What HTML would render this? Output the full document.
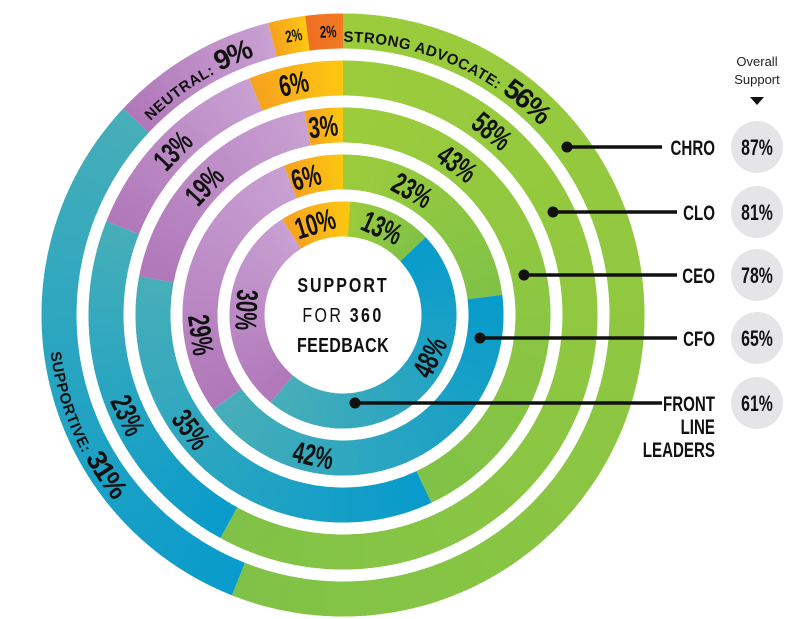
<!DOCTYPE html>
<html><head><meta charset="utf-8"><style>
html,body{margin:0;padding:0;background:#fff;}
svg{display:block;}
.nar{font-family:"Liberation Sans","DejaVu Sans",sans-serif;font-weight:bold;}
.wide{font-family:"Liberation Sans","DejaVu Sans",sans-serif;font-weight:bold;}
</style></head><body>
<svg id="chart" width="800" height="619" viewBox="0 0 800 619" xmlns="http://www.w3.org/2000/svg" xmlns:xlink="http://www.w3.org/1999/xlink">
<g id="rings"></g>
<g id="labels"></g>
<g id="leaders"></g>
<g text-anchor="middle" fill="#111" transform="translate(343,0) scale(0.8,1)">
<text class="wide" x="0" y="292" font-size="20" letter-spacing="2.5">SUPPORT</text>
<text x="0" y="322" font-size="20" letter-spacing="3"><tspan font-family="Liberation Sans, sans-serif">FOR</tspan> <tspan class="wide">360</tspan></text>
<text class="wide" x="0" y="352" font-size="20" letter-spacing="0.5">FEEDBACK</text>
</g>
<g text-anchor="middle" fill="#222">
<text x="757" y="66" font-size="13" font-family="Liberation Sans, sans-serif">Overall</text>
<text x="757" y="84" font-size="13" font-family="Liberation Sans, sans-serif">Support</text>
<path d="M750 97 L764 97 L757 105 Z" fill="#111"/>
</g>
</svg>
<script>
const categories = ["CHRO","CLO","CEO","CFO","FRONT LINE LEADERS"];
const strongAdvocate = [56,58,43,23,13];
const supportive = [31,23,35,42,48];
const neutral = [9,13,19,29,30];
const lowSupport = [2,6,3,6,10];
const opposed = [2,0,0,0,0];
const overallSupport = [87,81,78,65,61];

const svg = document.getElementById('chart');
const NS = 'http://www.w3.org/2000/svg';
const cx = 343, cy = 315, rOuterMid = 284, pitch = 47, half = 17.5;
const series = [strongAdvocate, supportive, neutral, lowSupport, opposed];
const seriesNames = ['strong-advocate','supportive','neutral','low-support','opposed'];
const colors = [['#9ccc3b','#80c247'],['#089bcb','#46aeb8'],['#b077b9','#c8a0d2'],['#f6a31e','#fdc611'],['#f06f23','#f07a22']];
const labelY = [147,212,275,338,403];
const dotX = [567,553,524,480,355];
const lineEnd = [662,677,677,677,662];
const labelAngle = [[23,247,328,350,357],[39,245,314,348,0],[37,233,313,354,0],[29,192,262,345,0],[24,116,273,343,0]];
const labelCcw = [[0,1,0,0,0],[0,1,0,0,0],[0,1,0,0,0],[0,1,1,0,0],[0,1,1,0,0]];

function pt(r,a){const t=a*Math.PI/180;return [cx+r*Math.sin(t), cy-r*Math.cos(t)];}
function sector(r0,r1,a0,a1){
  const p1=pt(r1,a0),p2=pt(r1,a1),p3=pt(r0,a1),p4=pt(r0,a0);const lg=(a1-a0)>180?1:0;
  return `M${p1[0]},${p1[1]} A${r1},${r1} 0 ${lg} 1 ${p2[0]},${p2[1]} L${p3[0]},${p3[1]} A${r0},${r0} 0 ${lg} 0 ${p4[0]},${p4[1]} Z`;
}
function mix(c1,c2,t){const a=parseInt(c1.slice(1),16),b=parseInt(c2.slice(1),16);
  const ch=s=>Math.round(((a>>s)&255)*(1-t)+((b>>s)&255)*t);return `rgb(${ch(16)},${ch(8)},${ch(0)})`;}

const ringsG = document.getElementById('rings');
const labelsG = document.getElementById('labels');
const leadersG = document.getElementById('leaders');
let pid = 0;
categories.forEach((cat,i)=>{
  const slug = cat.toLowerCase().replace(/ /g,'-');
  const rm = rOuterMid - pitch*i, r0 = rm-half, r1 = rm+half;
  const g = document.createElementNS(NS,'g');
  
  
  ringsG.appendChild(g);
  let start = 0;
  series.forEach((s,k)=>{
    const v = s[i]; if(!v) return;
    const a0 = start*3.6, a1 = (start+v)*3.6; start += v;
    const seg = document.createElementNS(NS,'g');
    
    
    g.appendChild(seg);
    const n = Math.max(1, Math.ceil(a1-a0));
    for(let j=0;j<n;j++){
      const b0=a0+(a1-a0)*j/n, b1=a0+(a1-a0)*(j+1)/n + (j<n-1?0.3:0);
      const p=document.createElementNS(NS,'path');
      p.setAttribute('d', sector(r0,r1,b0,Math.min(b1,a1)));
      p.setAttribute('fill', mix(colors[k][0],colors[k][1],n>1?j/(n-1):0));
      seg.appendChild(p);
    }
    const ang = labelAngle[i][k], ccw = labelCcw[i][k];
    const big = (i===0 && k<3);
    const t = document.createElementNS(NS,'text');
    
    
    t.setAttribute('fill','#111');
    if(big){
      const cap = 30*0.36;
      const rr = ccw ? rm + cap : rm - cap;
      const span = 80;
      const sA = ccw ? ang+span : ang-span, eA = ccw ? ang-span : ang+span;
      const q0 = pt(rr,sA), q1 = pt(rr,eA);
      const path = document.createElementNS(NS,'path');
      const id = 'lp'+(pid++);
      path.setAttribute('id', id);
      path.setAttribute('fill','none');
      path.setAttribute('d', `M${q0[0]},${q0[1]} A${rr},${rr} 0 0 ${ccw?0:1} ${q1[0]},${q1[1]}`);
      labelsG.appendChild(path);
      const tp = document.createElementNS(NS,'textPath');
      tp.setAttribute('href','#'+id);
      tp.setAttributeNS('http://www.w3.org/1999/xlink','xlink:href','#'+id);
      tp.setAttribute('startOffset','50%');
      tp.setAttribute('text-anchor','middle');
      const word = ['STRONG ADVOCATE: ','SUPPORTIVE: ','NEUTRAL: '][k];
      const w = document.createElementNS(NS,'tspan');
      w.setAttribute('class','wide'); w.setAttribute('font-size','15'); w.setAttribute('letter-spacing','0.5');
      w.textContent = word; tp.appendChild(w);
      const pv = document.createElementNS(NS,'tspan');
      pv.setAttribute('class','nar'); pv.setAttribute('font-size','28'); pv.setAttribute('letter-spacing','-2');
      pv.textContent = v+'%'; tp.appendChild(pv);
      t.appendChild(tp);
    } else {
      let fs = 30; if(k===4 || (i===0 && k===3)) fs = 17;
      const p = pt(rm, ang);
      const rot = ccw ? ang-180 : ang;
      t.setAttribute('transform', `translate(${p[0]},${p[1]}) rotate(${rot}) scale(0.68,1)`);
      t.setAttribute('class','nar'); t.setAttribute('font-size', fs);
      t.setAttribute('text-anchor','middle'); t.setAttribute('x','0'); t.setAttribute('y', (fs*0.36).toFixed(1));
      t.textContent = v+'%';
    }
    labelsG.appendChild(t);
  });
  const ln = document.createElementNS(NS,'line');
  
  
  ln.setAttribute('x1', dotX[i]); ln.setAttribute('x2', lineEnd[i]);
  ln.setAttribute('y1', labelY[i]); ln.setAttribute('y2', labelY[i]);
  ln.setAttribute('stroke','#111'); ln.setAttribute('stroke-width','3.5');
  leadersG.appendChild(ln);
  const dot = document.createElementNS(NS,'circle');
  
  
  dot.setAttribute('cx', dotX[i]); dot.setAttribute('cy', labelY[i]); dot.setAttribute('r','5.5'); dot.setAttribute('fill','#111');
  leadersG.appendChild(dot);
  const lbl = document.createElementNS(NS,'text');
  
  
  lbl.setAttribute('class','nar'); lbl.setAttribute('font-size','21'); lbl.setAttribute('fill','#111');
  lbl.setAttribute('text-anchor','end');
  lbl.setAttribute('transform','translate(715,0) scale(0.72,1)');
  const parts = cat==='FRONT LINE LEADERS' ? ['FRONT','LINE','LEADERS'] : [cat];
  parts.forEach((p,j)=>{const ts=document.createElementNS(NS,'tspan');ts.setAttribute('x','0');ts.setAttribute('y', labelY[i]+8+j*23);ts.textContent=p;lbl.appendChild(ts);});
  leadersG.appendChild(lbl);
  const bc = document.createElementNS(NS,'circle');
  
  
  bc.setAttribute('cx','757'); bc.setAttribute('cy', labelY[i]); bc.setAttribute('r','26'); bc.setAttribute('fill','#e5e5e7');
  leadersG.appendChild(bc);
  const bt = document.createElementNS(NS,'text');
  
  
  bt.setAttribute('class','nar'); bt.setAttribute('font-size','22'); bt.setAttribute('fill','#111');
  bt.setAttribute('text-anchor','middle');
  bt.setAttribute('transform',`translate(757,${labelY[i]+8}) scale(0.72,1)`);
  bt.textContent = overallSupport[i]+'%';
  leadersG.appendChild(bt);
});
</script>
</body></html>
